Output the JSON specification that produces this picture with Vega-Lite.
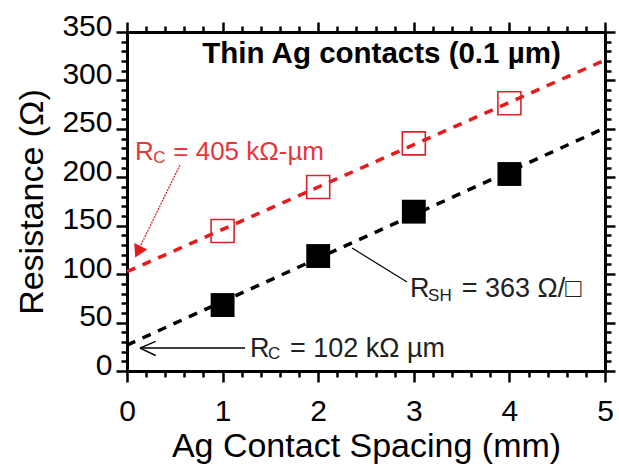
{
  "$schema": "https://vega.github.io/schema/vega-lite/v6.json",
  "width": 478,
  "height": 339,
  "autosize": {"type": "none"},
  "padding": {"left": 127, "top": 32, "right": 14, "bottom": 96},
  "background": "white",
  "config": {
    "view": {"stroke": null},
    "axis": {
      "grid": false,
      "domainColor": "#000",
      "domainWidth": 3,
      "tickColor": "#000",
      "tickWidth": 2.5,
      "labelColor": "#000",
      "labelFont": "Liberation Sans",
      "labelFontSize": 30,
      "titleFont": "Liberation Sans",
      "titleFontSize": 34,
      "titleFontWeight": "normal",
      "titleColor": "#000",
      "labelOverlap": false,
      "labelFlush": false
    },
    "text": {"font": "Liberation Sans"}
  },
  "encoding": {
    "x": {"field": "x", "type": "quantitative", "scale": {"domain": [0, 5], "nice": false, "zero": false}, "axis": null},
    "y": {"field": "y", "type": "quantitative", "scale": {"domain": [0, 350], "nice": false, "zero": false}, "axis": null}
  },
  "layer": [
    {
      "data": {"values": [{"x": 0, "y": 102.5}, {"x": 5, "y": 321}]},
      "mark": {"type": "line", "color": "#e41a1c", "strokeWidth": 3.5, "strokeDash": [9, 8]},
      "encoding": {
        "x": {"field": "x", "type": "quantitative", "scale": {"domain": [0, 5], "nice": false, "zero": false},
          "axis": {"orient": "bottom", "values": [0, 1, 2, 3, 4, 5], "format": "d", "tickSize": 11, "labelPadding": 14, "title": "Ag Contact Spacing (mm)", "titlePadding": 3}},
        "y": {"field": "y", "type": "quantitative", "scale": {"domain": [0, 350], "nice": false, "zero": false},
          "axis": {"orient": "left", "values": [0, 50, 100, 150, 200, 250, 300, 350], "format": "d", "tickSize": 11, "labelPadding": 4, "labelOffset": -6, "title": "Resistance (Ω)", "titlePadding": 12}}
      }
    },
    {
      "data": {"values": [{"x": 0, "y": 26.8}, {"x": 5, "y": 250.9}]},
      "mark": {"type": "line", "color": "#000", "strokeWidth": 3.5, "strokeDash": [9, 8]},
      "encoding": {
        "x": {"field": "x", "type": "quantitative", "scale": {"domain": [0, 5], "nice": false, "zero": false},
          "axis": {"orient": "bottom", "values": [0.2, 0.4, 0.6, 0.8, 1.2, 1.4, 1.6, 1.8, 2.2, 2.4, 2.6, 2.8, 3.2, 3.4, 3.6, 3.8, 4.2, 4.4, 4.6, 4.8], "tickSize": 6, "labels": false, "domain": false, "title": null}},
        "y": {"field": "y", "type": "quantitative", "scale": {"domain": [0, 350], "nice": false, "zero": false},
          "axis": {"orient": "left", "values": [10, 20, 30, 40, 60, 70, 80, 90, 110, 120, 130, 140, 160, 170, 180, 190, 210, 220, 230, 240, 260, 270, 280, 290, 310, 320, 330, 340], "tickSize": 6, "labels": false, "domain": false, "title": null}}
      }
    },
    {
      "data": {"values": [{"x": 1, "y": 144.5}, {"x": 2, "y": 190}, {"x": 3, "y": 235}, {"x": 4, "y": 276.4}]},
      "mark": {"type": "point", "shape": "square", "filled": false, "size": 530, "stroke": "#d9252a", "strokeWidth": 1.6, "opacity": 1},
      "encoding": {
        "x": {"field": "x", "type": "quantitative", "scale": {"domain": [0, 5], "nice": false, "zero": false},
          "axis": {"orient": "top", "values": [0, 1, 2, 3, 4, 5], "tickSize": 10, "labels": false, "title": null}},
        "y": {"field": "y", "type": "quantitative", "scale": {"domain": [0, 350], "nice": false, "zero": false},
          "axis": {"orient": "right", "values": [0, 50, 100, 150, 200, 250, 300, 350], "tickSize": 10, "labels": false, "title": null}}
      }
    },
    {
      "data": {"values": [{"x": 1, "y": 68.1}, {"x": 2, "y": 118.7}, {"x": 3, "y": 164.5}, {"x": 4, "y": 203.4}]},
      "mark": {"type": "point", "shape": "square", "filled": true, "size": 570, "color": "#000", "opacity": 1},
      "encoding": {
        "x": {"field": "x", "type": "quantitative", "scale": {"domain": [0, 5], "nice": false, "zero": false},
          "axis": {"orient": "top", "values": [0.2, 0.4, 0.6, 0.8, 1.2, 1.4, 1.6, 1.8, 2.2, 2.4, 2.6, 2.8, 3.2, 3.4, 3.6, 3.8, 4.2, 4.4, 4.6, 4.8], "tickSize": 6, "labels": false, "domain": false, "title": null}},
        "y": {"field": "y", "type": "quantitative", "scale": {"domain": [0, 350], "nice": false, "zero": false},
          "axis": {"orient": "right", "values": [10, 20, 30, 40, 60, 70, 80, 90, 110, 120, 130, 140, 160, 170, 180, 190, 210, 220, 230, 240, 260, 270, 280, 290, 310, 320, 330, 340], "tickSize": 6, "labels": false, "domain": false, "title": null}}
      }
    },
    {
      "data": {"values": [{"x": 2.662, "y": 318.3, "text": "Thin Ag contacts (0.1 µm)"}]},
      "mark": {"type": "text", "align": "center", "baseline": "alphabetic", "fontSize": 29.5, "fontWeight": "bold", "color": "#000"},
      "encoding": {"text": {"field": "text"}}
    },
    {
      "data": {"values": [{"x": 0.084, "y": 217.8, "text": "R"}, {"x": 0.484, "y": 217.8, "text": "= 405 kΩ-µm"}]},
      "mark": {"type": "text", "align": "left", "baseline": "alphabetic", "fontSize": 26, "color": "#e8353a"},
      "encoding": {"text": {"field": "text"}}
    },
    {
      "data": {"values": [{"x": 0.275, "y": 214.4, "text": "C"}]},
      "mark": {"type": "text", "align": "left", "baseline": "alphabetic", "fontSize": 17, "color": "#e8353a"},
      "encoding": {"text": {"field": "text"}}
    },
    {
      "data": {"values": [{"x": 0.554, "y": 212.7, "x2": 0.125, "y2": 126}]},
      "mark": {"type": "rule", "color": "#d9252a", "strokeWidth": 1.3, "strokeDash": [2, 1]},
      "encoding": {"x2": {"field": "x2"}, "y2": {"field": "y2"}}
    },
    {
      "data": {"values": [{"x": 0.115, "y": 123}]},
      "mark": {"type": "point", "shape": "triangle-up", "angle": 206, "size": 210, "filled": true, "color": "#e41a1c", "opacity": 1},
      "encoding": {}
    },
    {
      "data": {"values": [{"x": 1.287, "y": 14.8, "text": "R"}, {"x": 1.705, "y": 14.8, "text": "= 102  kΩ µm"}, {"x": 2.96, "y": 76.7, "text": "R"}, {"x": 3.501, "y": 76.7, "text": "= 363 Ω/□"}]},
      "mark": {"type": "text", "align": "left", "baseline": "alphabetic", "fontSize": 27, "color": "#222"},
      "encoding": {"text": {"field": "text"}}
    },
    {
      "data": {"values": [{"x": 1.475, "y": 12.9, "text": "C"}, {"x": 3.149, "y": 72.6, "text": "SH"}]},
      "mark": {"type": "text", "align": "left", "baseline": "alphabetic", "fontSize": 17, "color": "#222"},
      "encoding": {"text": {"field": "text"}}
    },
    {
      "data": {"values": [
        {"x": 1.234, "y": 23.7, "x2": 0.136, "y2": 23.7},
        {"x": 0.136, "y": 23.7, "x2": 0.3, "y2": 30.5},
        {"x": 0.136, "y": 23.7, "x2": 0.3, "y2": 16}
      ]},
      "mark": {"type": "rule", "color": "#000", "strokeWidth": 1.4},
      "encoding": {"x2": {"field": "x2"}, "y2": {"field": "y2"}}
    },
    {
      "data": {"values": [{"x": 2.354, "y": 127, "x2": 2.929, "y2": 91.9}]},
      "mark": {"type": "rule", "color": "#000", "strokeWidth": 1.2},
      "encoding": {"x2": {"field": "x2"}, "y2": {"field": "y2"}}
    }
  ],
  "resolve": {"axis": {"x": "independent", "y": "independent"}}
}
